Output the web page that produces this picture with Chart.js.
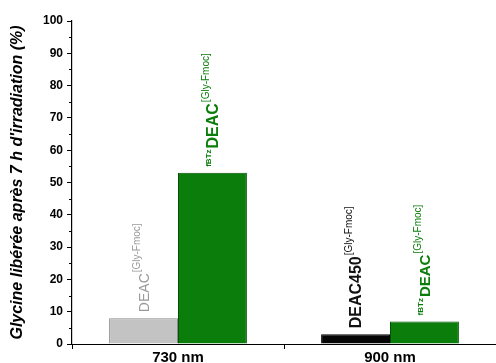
<!DOCTYPE html>
<html lang="fr">
<head>
  <meta charset="UTF-8">
  <title>Glycine libérée</title>
  <script src="https://cdn.jsdelivr.net/npm/chart.js@4.4.1/dist/chart.umd.min.js"></script>
  <style>
    html, body { margin: 0; padding: 0; background: #fff; }
    .wrap { width: 496px; height: 363px; position: relative; }
  </style>
</head>
<body>
  <div class="wrap"><canvas id="c"></canvas></div>
  <script>
    // data
    const categories = ['730 nm', '900 nm'];
    const refValues = [8, 3];     // DEAC (730) / DEAC450 (900)
    const fbtzValues = [53, 7];   // fBTz-DEAC at both wavelengths
    const yTicks = [0, 10, 20, 30, 40, 50, 60, 70, 80, 90, 100];

    // bar annotations: [prefix, main, superscript]
    const refNames = [['', 'DEAC', '[Gly-Fmoc]'], ['', 'DEAC450', '[Gly-Fmoc]']];
    const fbtzNames = [['fBTz', 'DEAC', '[Gly-Fmoc]'], ['fBTz', 'DEAC', '[Gly-Fmoc]']];

    const FONT = 'Arial, "Liberation Sans", sans-serif';
    const refFill = ['#c3c3c3', '#050505'];
    const refBorder = ['#8a8a8a', '#000000'];
    const refText = ['#9a9a9a', '#111111'];
    const green = '#0a7d0a';

    // rotated labels above bars
    const barLabels = {
      id: 'barLabels',
      afterDatasetsDraw(chart) {
        const ctx = chart.ctx;
        const sets = [
          { names: refNames, colors: refText, mainSize: [14, 16] },
          { names: fbtzNames, colors: [green, green], mainSize: [16, 15] }
        ];
        sets.forEach((s, di) => {
          const meta = chart.getDatasetMeta(di);
          meta.data.forEach((bar, i) => {
            const [pre, main, sup] = s.names[i];
            const ms = s.mainSize[i];
            ctx.save();
            ctx.translate(bar.x, bar.y - 6);
            ctx.rotate(-Math.PI / 2);
            ctx.fillStyle = s.colors[i];
            ctx.textBaseline = 'alphabetic';
            ctx.textAlign = 'left';
            let pos = 0;
            const base = ms * 0.36;
            if (pre) {
              ctx.font = 'bold 8px ' + FONT;
              ctx.fillText(pre, pos, base - ms * 0.45);
              pos += ctx.measureText(pre).width + 1;
            }
            ctx.font = (di === 1 || i === 1 ? 'bold ' : '') + ms + 'px ' + FONT;
            ctx.fillText(main, pos, base);
            pos += ctx.measureText(main).width + 1;
            ctx.font = '10px ' + FONT;
            ctx.fillText(sup, pos, base - ms * 0.6);
            ctx.restore();
          });
        });
      }
    };

    // short minor ticks on the y axis
    const minorTicks = {
      id: 'minorTicks',
      afterDraw(chart) {
        const ctx = chart.ctx;
        const y = chart.scales.y;
        const left = chart.chartArea.left;
        ctx.save();
        ctx.strokeStyle = '#000';
        ctx.lineWidth = 1;
        for (let i = 0; i < yTicks.length - 1; i++) {
          const py = Math.round(y.getPixelForValue((yTicks[i] + yTicks[i + 1]) / 2)) + 0.5;
          ctx.beginPath();
          ctx.moveTo(left - 3, py);
          ctx.lineTo(left, py);
          ctx.stroke();
        }
        ctx.restore();
      }
    };

    new Chart(document.getElementById('c'), {
      type: 'bar',
      data: {
        labels: categories,
        datasets: [
          {
            data: refValues,
            backgroundColor: refFill,
            borderColor: refBorder,
            borderWidth: 1,
            categoryPercentage: 0.65,
            barPercentage: 1.0
          },
          {
            data: fbtzValues,
            backgroundColor: green,
            borderColor: '#045004',
            borderWidth: 1,
            categoryPercentage: 0.65,
            barPercentage: 1.0
          }
        ]
      },
      options: {
        responsive: true,
        maintainAspectRatio: false,
        animation: false,
        layout: { padding: { top: 21, right: 0, bottom: 0, left: 0 } },
        plugins: { legend: { display: false }, tooltip: { enabled: false } },
        scales: {
          x: {
            grid: { display: true, drawOnChartArea: false, color: '#000', tickLength: 5 },
            border: { color: '#000', width: 1 },
            ticks: { color: '#000', font: { family: FONT, size: 15, weight: 'bold' }, padding: 0 },
            afterFit(scale) { scale.height = 19; }
          },
          y: {
            min: 0,
            max: 100,
            afterBuildTicks(scale) { scale.ticks = yTicks.map(v => ({ value: v })); },
            grid: { display: true, drawOnChartArea: false, color: '#000', tickLength: 5 },
            border: { color: '#000', width: 1.2 },
            ticks: { color: '#000', font: { family: FONT, size: 12, weight: 'bold' }, padding: 4 },
            title: {
              display: true,
              text: "Glycine libérée après 7 h d'irradiation (%)",
              color: '#000',
              font: { family: FONT, size: 16, weight: 'bold', style: 'italic' },
              padding: { top: 8, bottom: 0 }
            },
            afterFit(scale) { scale.width = 72; }
          }
        }
      },
      plugins: [barLabels, minorTicks]
    });
  </script>
</body>
</html>
